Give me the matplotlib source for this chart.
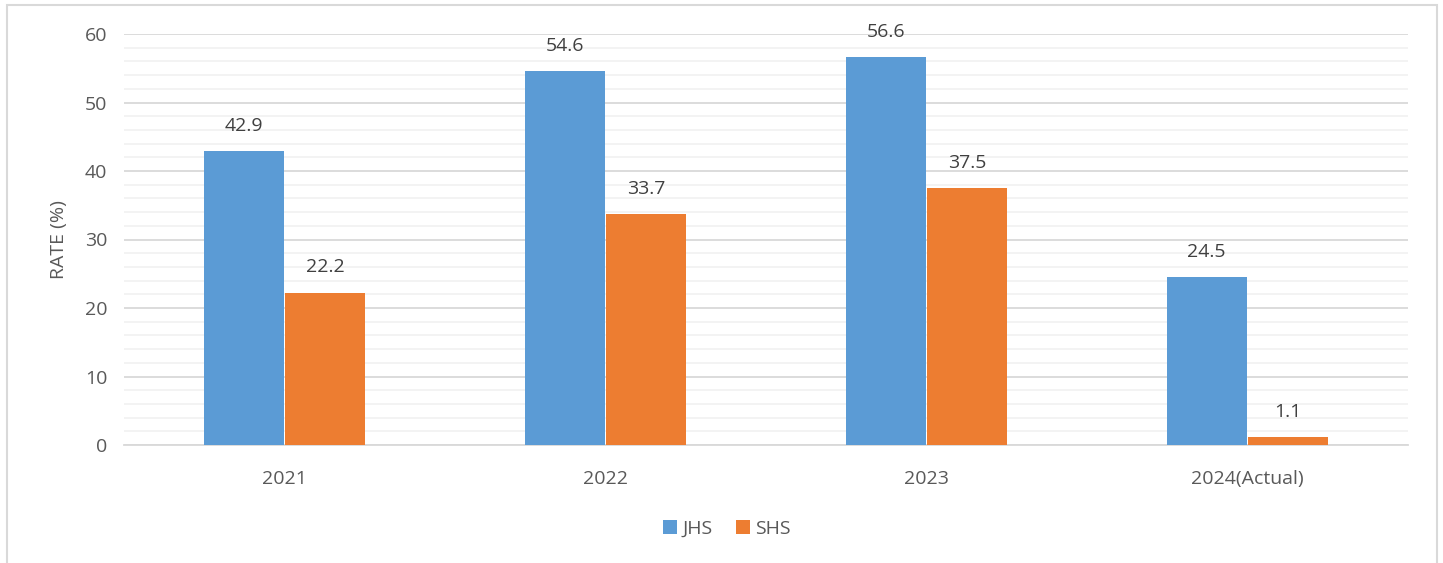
import numpy as np
import matplotlib.pyplot as plt
from matplotlib.patches import Rectangle

# data
years = ["2021", "2022", "2023", "2024(Actual)"]
jhs = [42.9, 54.6, 56.6, 24.5]
shs = [22.2, 33.7, 37.5, 1.1]

plt.rcParams['font.family'] = ['Open Sans', 'DejaVu Sans']

fig = plt.figure(figsize=(14.43, 5.63), dpi=100)
ax = fig.add_axes([124 / 1443, 1 - 445 / 563, (1408 - 124) / 1443, (445 - 34) / 563])

# chart frame
fig.patches.append(Rectangle((7 / 1443, -0.05), (1437 - 7) / 1443, 1.05 - 5 / 563,
                             transform=fig.transFigure, fill=False,
                             edgecolor='#d9d9d9', linewidth=1.5))

x = np.arange(len(years))
w = 0.25
b1 = ax.bar(x - w / 2 - 0.002, jhs, w, color='#5b9bd5', label='JHS', zorder=3)
b2 = ax.bar(x + w / 2 + 0.002, shs, w, color='#ed7d31', label='SHS', zorder=3)

for bars, vals in ((b1, jhs), (b2, shs)):
    for r, v in zip(bars, vals):
        ax.text(r.get_x() + r.get_width() / 2, v + 2.4, f"{v:.1f}",
                ha='center', va='bottom', fontsize=14, color='#404040')

ax.set_xlim(-0.5, 3.5)
ax.set_ylim(0, 60)
ax.set_yticks(range(0, 61, 10))
ax.set_yticks(range(0, 61, 2), minor=True)
ax.grid(axis='y', which='major', color='#d9d9d9', linewidth=1.3, zorder=0)
ax.grid(axis='y', which='minor', color='#f2f2f2', linewidth=1.3, zorder=0)
ax.set_xticks(x)
ax.set_xticklabels(years)
ax.tick_params(axis='both', which='both', length=0, labelsize=14, labelcolor='#595959')
ax.tick_params(axis='y', pad=12)
ax.tick_params(axis='x', pad=18)
for s in ['top', 'right', 'left']:
    ax.spines[s].set_visible(False)
ax.spines['bottom'].set_color('#d9d9d9')
ax.spines['bottom'].set_linewidth(1.3)

ax.set_ylabel("RATE (%)", fontsize=14, color='#595959', labelpad=12)

fig.legend(loc='center', bbox_to_anchor=(727 / 1443, 1 - 529 / 563), ncol=2,
           frameon=False, fontsize=14, labelcolor='#595959', handlelength=0.7,
           handleheight=0.7, handletextpad=0.3, columnspacing=1.2)

fig.savefig("out.png", dpi=100)
